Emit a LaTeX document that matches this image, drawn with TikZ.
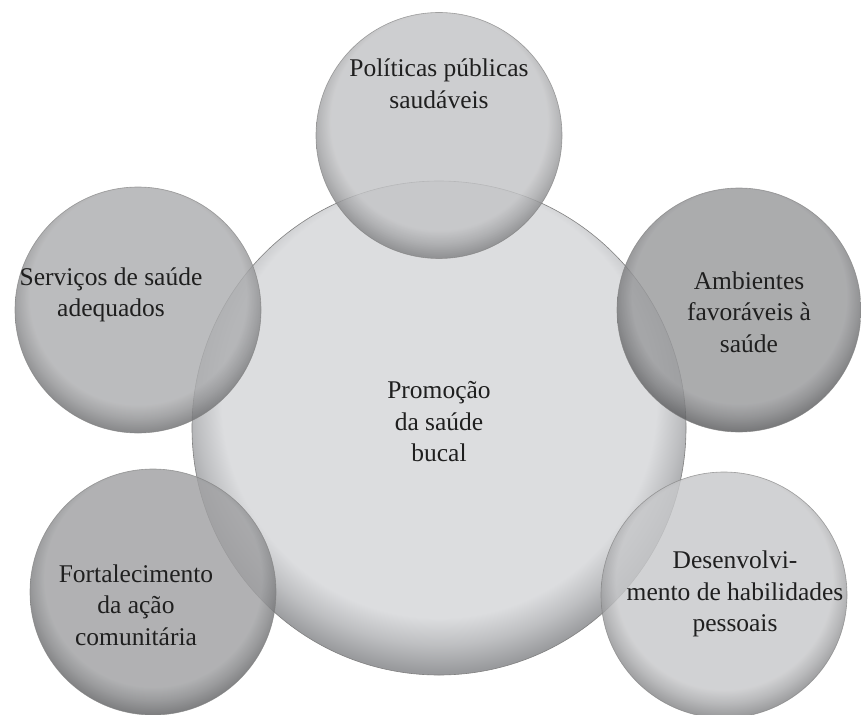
\documentclass[tikz,border=0pt]{standalone}
\usepackage{fontspec}
\setmainfont{Liberation Serif}
% fill / rim colours (pre-opacity)
\definecolor{fC}{rgb}{0.863,0.867,0.875}
\definecolor{rC}{rgb}{0.600,0.605,0.615}
\definecolor{fP}{rgb}{0.765,0.768,0.776}
\definecolor{rP}{rgb}{0.510,0.513,0.521}
\definecolor{fS}{rgb}{0.680,0.683,0.691}
\definecolor{rS}{rgb}{0.440,0.443,0.451}
\definecolor{fA}{rgb}{0.600,0.603,0.611}
\definecolor{rA}{rgb}{0.360,0.363,0.371}
\definecolor{fF}{rgb}{0.630,0.633,0.641}
\definecolor{rF}{rgb}{0.390,0.393,0.401}
\definecolor{fD}{rgb}{0.785,0.788,0.796}
\definecolor{rD}{rgb}{0.520,0.523,0.531}
\pgfdeclareradialshading{shC}{\pgfpoint{0bp}{5bp}}{color(0bp)=(fC); color(22bp)=(fC); color(24.5bp)=(fC!55!rC); color(27bp)=(rC); color(50bp)=(rC)}
\pgfdeclareradialshading{shP}{\pgfpoint{0bp}{5bp}}{color(0bp)=(fP); color(22bp)=(fP); color(24.5bp)=(fP!55!rP); color(27bp)=(rP); color(50bp)=(rP)}
\pgfdeclareradialshading{shS}{\pgfpoint{0bp}{5bp}}{color(0bp)=(fS); color(22bp)=(fS); color(24.5bp)=(fS!55!rS); color(27bp)=(rS); color(50bp)=(rS)}
\pgfdeclareradialshading{shA}{\pgfpoint{0bp}{5bp}}{color(0bp)=(fA); color(22bp)=(fA); color(24.5bp)=(fA!55!rA); color(27bp)=(rA); color(50bp)=(rA)}
\pgfdeclareradialshading{shF}{\pgfpoint{0bp}{5bp}}{color(0bp)=(fF); color(22bp)=(fF); color(24.5bp)=(fF!55!rF); color(27bp)=(rF); color(50bp)=(rF)}
\pgfdeclareradialshading{shD}{\pgfpoint{0bp}{5bp}}{color(0bp)=(fD); color(22bp)=(fD); color(24.5bp)=(fD!55!rD); color(27bp)=(rD); color(50bp)=(rD)}
\begin{document}
\begin{tikzpicture}[x=1pt,y=-1pt,
  disc/.style={circle, inner sep=0pt, draw=black!50, line width=0.6pt, shade},
  outer/.style={disc, minimum size=246pt, fill opacity=0.82, draw opacity=0.7},
  lbl/.style={align=center, text=black!88, inner sep=0pt, font=\fontsize{25.5}{31.5}\selectfont}]
\clip (0,0) rectangle (861,714);
\fill[white] (0,0) rectangle (861,714);
\node[disc, minimum size=494pt, shading=shC] (c0) at (439,428) {};
\node[outer, shading=shP] (c1) at (439,135.5) {};
\node[outer, shading=shS] (c2) at (138,310) {};
\node[outer, shading=shA, minimum size=244pt] (c3) at (739,310) {};
\node[outer, shading=shF] (c4) at (153,592) {};
\node[outer, shading=shD] (c5) at (724,595) {};
\node[lbl] (t1) at (439,84) {Políticas públicas\\saudáveis};
\node[lbl] (t2) at (111,295) {Serviços de saúde\\adequados};
\node[lbl] (t3) at (749,312) {Ambientes\\favoráveis à\\saúde};
\node[lbl] (t0) at (439,422) {Promoção\\da saúde\\bucal};
\node[lbl] (t4) at (136,605) {Fortalecimento\\da ação\\comunitária};
\node[lbl] (t5) at (735,594) {Desenvolvi-\\mento de habilidades\\pessoais};
\end{tikzpicture}
\end{document}
